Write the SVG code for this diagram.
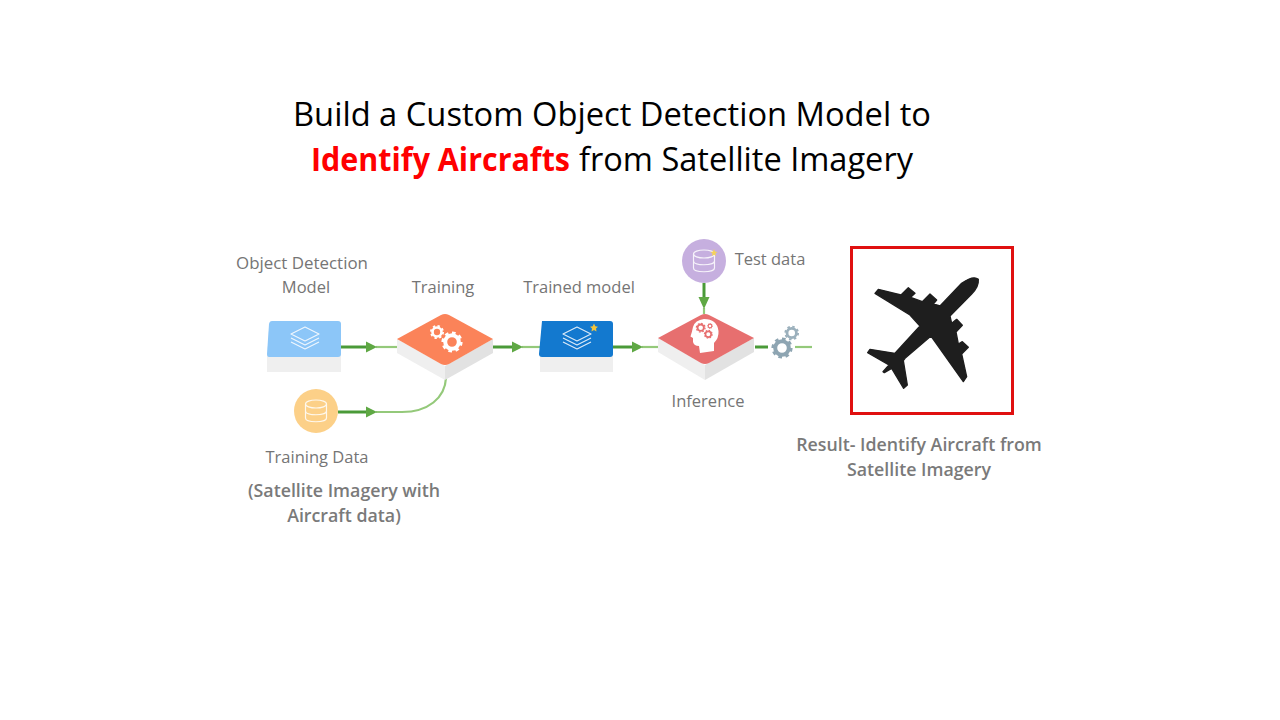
<svg xmlns="http://www.w3.org/2000/svg" xmlns:xlink="http://www.w3.org/1999/xlink" width="1280" height="720" viewBox="0 0 1280 720">
<style>
text{font-family:"Open Sans","Noto Sans","Liberation Sans",sans-serif}
.title{font-size:32.6px;fill:#000}
.lab{font-size:16.5px;fill:#757575;text-anchor:middle}
.res{font-size:17.8px;font-weight:600;fill:#7a7a7a;text-anchor:middle}
.dk{stroke:#4a9a38;stroke-width:3;fill:none}
.lt{stroke:#94c97a;stroke-width:2.200;fill:none}
.hd{fill:#5fa844}
.side{fill:#efefef}
.side2{fill:#e2e2e2}
.ic{fill:none;stroke:#fff;stroke-width:1.200;stroke-linejoin:round;opacity:.85}
</style>
<defs>
<g id="gear"><circle r="6.800" fill="none" stroke-width="4"/><circle r="9.300" fill="none" stroke-width="2.600" pathLength="16" stroke-dasharray="1 1"/></g>
<g id="layers" class="ic"><path d="M0-9 14-2 0 5-14-2Z"/><path d="M-14 2 0 9 14 2"/><path d="M-14 6 0 13 14 6"/></g>
<g id="db" class="ic"><ellipse cx="0" cy="-7" rx="10.500" ry="4"/><path d="M-10.500-7V7C-10.500 12 10.500 12 10.500 7V-7M-10.500 0C-10.500 5 10.500 5 10.500 0"/></g>
</defs>
<rect width="1280" height="720" fill="#fff"/>
<g id="title">
<text class="title" x="293" y="126" textLength="638" lengthAdjust="spacingAndGlyphs">Build a Custom Object Detection Model to</text>
<text class="title" x="311" y="171" font-weight="700" style="fill:#f00" textLength="259" lengthAdjust="spacingAndGlyphs">Identify Aircrafts</text>
<text class="title" x="579" y="171" textLength="334" lengthAdjust="spacingAndGlyphs">from Satellite Imagery</text>
</g>
<g id="connectors">
<path class="dk" d="M341 347H368"/><path class="lt" d="M376 347H398"/><path class="hd" d="M366 341.500 377 347 366 352.500Z"/>
<path class="dk" d="M338 412H368"/><path class="lt" d="M376 412H402C428 412 445 398 446 378"/><path class="hd" d="M366 406.500 377 412 366 417.500Z"/>
<path class="dk" d="M493 347H514"/><path class="lt" d="M522 347H540"/><path class="hd" d="M512 341.500 523 347 512 352.500Z"/>
<path class="dk" d="M613 347H634"/><path class="lt" d="M642 347H658"/><path class="hd" d="M632 341.500 643 347 632 352.500Z"/>
<path class="dk" d="M704 283V300"/><path class="lt" d="M704 308V314"/><path class="hd" d="M698.500 297 704 309 709.500 297Z"/>
<path class="dk" d="M755 347H768"/><path class="lt" d="M795 347H812"/>
</g>
<g id="model">
<text class="lab" x="302" y="269" style="font-size:16.900px">Object Detection</text><text class="lab" x="306" y="293">Model</text>
<path class="side" d="M267 354H341V372H267Z"/>
<path fill="#8cc6f8" d="M272 321H338Q341 321 341 324V354Q341 357 338 357H269Q267 357 267 354L269 324Q269.500 321 272 321Z"/>
<use xlink:href="#layers" href="#layers" transform="translate(305 336)"/>
</g>
<g id="training">
<text class="lab" x="443" y="293">Training</text>
<path class="side" d="M397 339V353L445 380V366Z"/><path class="side2" d="M493 339V353L445 380V366Z"/>
<path fill="#fb8359" d="M441 315Q445 313 449 315L493 339 449 364Q445 366 441 364L397 339Z"/>
<use xlink:href="#gear" href="#gear" transform="translate(437 332) scale(.66)" stroke="#fff"/>
<use xlink:href="#gear" href="#gear" transform="translate(452 342) scale(1)" stroke="#fff"/>
</g>
<g id="training-data">
<circle cx="316" cy="411" r="22" fill="#fcd088"/>
<use xlink:href="#db" href="#db" transform="translate(316 411)"/>
<text class="lab" x="317" y="463">Training Data</text>
<text class="res" x="344" y="497">(Satellite Imagery with</text><text class="res" x="344" y="522">Aircraft data)</text>
</g>
<g id="trained-model">
<text class="lab" x="579" y="293">Trained model</text>
<path class="side" d="M540 354H613V372H540Z"/>
<path fill="#1379cf" d="M542 321H610Q613 321 613 324V354Q613 357 610 357H542Q539 357 539 354Z"/>
<use xlink:href="#layers" href="#layers" transform="translate(577 336)"/>
<path fill="#f2c43d" d="M594 323.500 595.300 326.300 598 326.700 596 328.600 596.500 331.500 594 330 591.500 331.500 592 328.600 590 326.700 592.700 326.300Z"/>
</g>
<g id="test-data">
<circle cx="704" cy="261" r="22" fill="#c6afdf"/>
<use xlink:href="#db" href="#db" transform="translate(704 261)"/>
<path fill="#f5d25c" d="M714 249 715 251.500 717.500 252 715.500 253.500 716 256 714 254.800 712 256 712.500 253.500 710.500 252 713 251.500Z"/>
<text class="lab" x="770" y="265">Test data</text>
</g>
<g id="inference">
<path class="side" d="M658 338V352L705 380V365Z"/><path class="side2" d="M754 338V352L705 380V365Z"/>
<path fill="#e76f6f" d="M701 315Q705 313 709 315L754 338 709 363Q705 365 701 363L658 338Z"/>
<path fill="#fff" d="M704 319Q695 320 693 327Q692 332 690.500 336.500L693 338V342Q694 346 699 346L700 353 714 351 714 343Q719 338 718.500 331Q717 319 704 319Z"/>
<use xlink:href="#gear" href="#gear" transform="translate(700.700 327.700) scale(.47)" stroke="#e76f6f"/>
<use xlink:href="#gear" href="#gear" transform="translate(710 326) scale(.27)" stroke="#e76f6f"/>
<use xlink:href="#gear" href="#gear" transform="translate(708.300 334.300) scale(.42)" stroke="#e76f6f"/>
<text class="lab" x="708" y="407">Inference</text>
</g>
<g id="output-gears">
<use xlink:href="#gear" href="#gear" transform="translate(782 348)" stroke="#8ea5b2"/>
<use xlink:href="#gear" href="#gear" transform="translate(791.700 333) scale(.69)" stroke="#9bb0bc"/>
</g>
<g id="result">
<rect x="851.500" y="247.500" width="161" height="166" fill="#fff" stroke="#e01010" stroke-width="3"/>
<path fill="#1e1e1e" stroke="#1e1e1e" stroke-width="4" stroke-linejoin="round" transform="translate(845 240) scale(.3333)" d="M400 118Q402 140 380 162L315 228 320 250 335 238 352 256 333 276 340 312 352 305 370 322 350 342 365 410 355 425 258 288 180 355 175 362 187 435 176 445 140 385 118 398 114 395 132 375 68 338 75 328 150 340 225 258 195 225 90 160 100 148 168 165 190 143 210 160 197 172 232 185 255 162 275 180 265 192 285 198 350 130Q385 105 400 118Z"/>
<text class="res" x="919" y="451">Result- Identify Aircraft from</text><text class="res" x="919" y="476">Satellite Imagery</text>
</g>
</svg>
